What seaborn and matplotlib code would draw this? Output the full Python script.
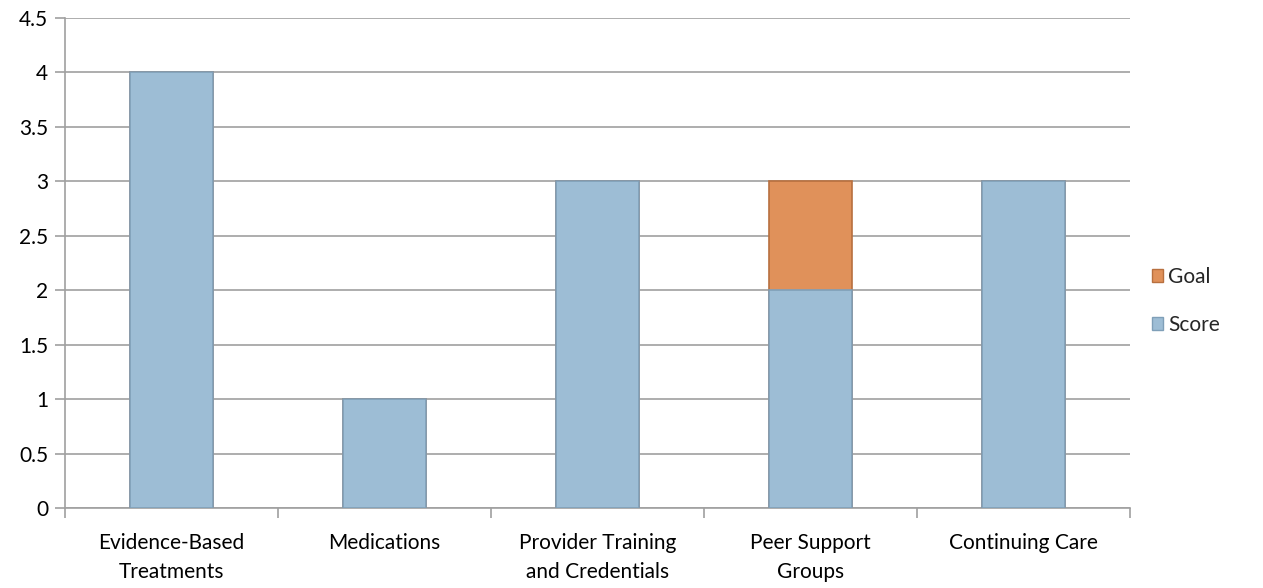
import matplotlib
matplotlib.use("Agg")
import matplotlib.pyplot as plt
import seaborn as sns
import pandas as pd
from matplotlib.patches import Patch
from matplotlib.ticker import MultipleLocator, FixedLocator

categories = ["Evidence-Based\nTreatments", "Medications", "Provider Training\nand Credentials",
              "Peer Support\nGroups", "Continuing Care"]
score = [4, 1, 3, 2, 3]
goal = [0, 0, 0, 1, 0]

score_color = "#9DBDD5"
goal_color = "#E0915A"

sns.set_theme(style="white")
plt.rcParams["font.family"] = ["Lato", "DejaVu Sans"]

df = pd.DataFrame({"category": categories, "score": score,
                   "total": [s + g for s, g in zip(score, goal)]})

fig = plt.figure(figsize=(12.63, 5.88), dpi=100)
ax = fig.add_axes([65 / 1263, 1 - 508 / 588, (1130 - 65) / 1263, (508 - 18) / 588])

sns.barplot(data=df, x="category", y="total", color=goal_color, saturation=1,
            width=0.39, edgecolor="#B8703F", linewidth=1.2, ax=ax, zorder=3)
sns.barplot(data=df, x="category", y="score", color=score_color, saturation=1,
            width=0.39, edgecolor="#7F9FB8", linewidth=1.2, ax=ax, zorder=4)

ax.set_ylim(0, 4.5)
ax.set_xlim(-0.5, len(categories) - 0.5)
ax.yaxis.set_major_locator(MultipleLocator(0.5))
ax.set_yticklabels([f"{v:g}" for v in ax.get_yticks()])
ax.grid(axis="y", color="#A0A0A0", linewidth=1.2, zorder=0)
ax.set_axisbelow(True)
ax.set_xlabel("")
ax.set_ylabel("")

for side in ["top", "right"]:
    ax.spines[side].set_visible(False)
for side in ["left", "bottom"]:
    ax.spines[side].set_color("#A0A0A0")
    ax.spines[side].set_linewidth(1.2)

ax.tick_params(axis="y", which="major", left=True, length=7, width=1.2, color="#A0A0A0",
               labelsize=15, labelcolor="black", pad=5)
ax.tick_params(axis="x", which="major", bottom=False, labelsize=15, labelcolor="black", pad=12)
for lbl in ax.get_xticklabels():
    lbl.set_linespacing(1.55)
ax.xaxis.set_minor_locator(FixedLocator([i + 0.5 for i in range(-1, len(categories))]))
ax.tick_params(axis="x", which="minor", bottom=True, length=7, width=1.2, color="#A0A0A0")

handles = [Patch(facecolor=goal_color, edgecolor="#B8703F", label="Goal"),
           Patch(facecolor=score_color, edgecolor="#7F9FB8", label="Score")]
fig.legend(handles=handles, loc="center left", bbox_to_anchor=(1133 / 1263, 1 - 301 / 588),
           frameon=False, fontsize=15, handlelength=0.55, handleheight=0.55,
           handletextpad=0.25, labelspacing=1.35)

fig.savefig("out.png", dpi=100)
